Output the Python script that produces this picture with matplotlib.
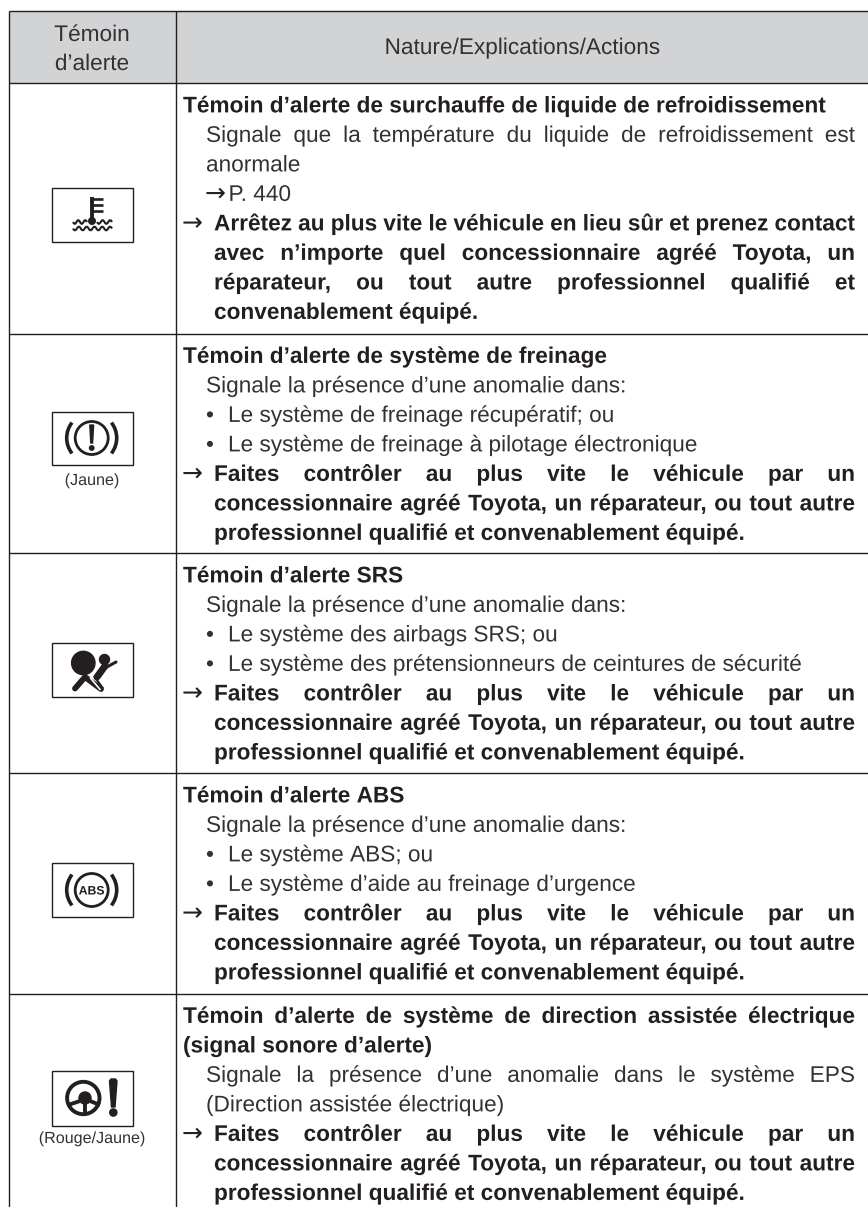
# -*- coding: utf-8 -*-
import matplotlib
matplotlib.use('Agg')
from matplotlib import pyplot as plt
from matplotlib import patheffects
from matplotlib.font_manager import FontProperties
from matplotlib.patches import Arc, Circle, Polygon, Rectangle, PathPatch
from matplotlib.path import Path
from matplotlib.textpath import text_to_path

plt.rcParams['font.family'] = ['Liberation Sans', 'DejaVu Sans']
# trace le texte en contours pour garder les positions au sous-pixel
plt.rcParams['path.effects'] = [patheffects.Normal()]

ENCRE = '#231f20'
GRIS_TEXTE = '#333132'
GRIS_ENTETE = '#d1d3d4'

entete_gauche = ['Témoin', 'd’alerte']
entete_droite = 'Nature/Explications/Actions'

# (style, texte, justifie) : t=titre, n=normal, p=puce, f=fleche, c=suite de fleche, r=renvoi
lignes_1 = [
    ('t', 'Témoin d’alerte de surchauffe de liquide de refroidissement', False),
    ('n', 'Signale que la température du liquide de refroidissement est', True),
    ('n', 'anormale', False),
    ('r', 'P. 440', False),
    ('f', 'Arrêtez au plus vite le véhicule en lieu sûr et prenez contact', True),
    ('c', 'avec n’importe quel concessionnaire agréé Toyota, un', True),
    ('c', 'réparateur, ou tout autre professionnel qualifié et', True),
    ('c', 'convenablement équipé.', False),
]
lignes_2 = [
    ('t', 'Témoin d’alerte de système de freinage', False),
    ('n', 'Signale la présence d’une anomalie dans:', False),
    ('p', 'Le système de freinage récupératif; ou', False),
    ('p', 'Le système de freinage à pilotage électronique', False),
    ('f', 'Faites contrôler au plus vite le véhicule par un', True),
    ('c', 'concessionnaire agréé Toyota, un réparateur, ou tout autre', True),
    ('c', 'professionnel qualifié et convenablement équipé.', False),
]
lignes_3 = [
    ('t', 'Témoin d’alerte SRS', False),
    ('n', 'Signale la présence d’une anomalie dans:', False),
    ('p', 'Le système des airbags SRS; ou', False),
    ('p', 'Le système des prétensionneurs de ceintures de sécurité', False),
    ('f', 'Faites contrôler au plus vite le véhicule par un', True),
    ('c', 'concessionnaire agréé Toyota, un réparateur, ou tout autre', True),
    ('c', 'professionnel qualifié et convenablement équipé.', False),
]
lignes_4 = [
    ('t', 'Témoin d’alerte ABS', False),
    ('n', 'Signale la présence d’une anomalie dans:', False),
    ('p', 'Le système ABS; ou', False),
    ('p', 'Le système d’aide au freinage d’urgence', False),
    ('f', 'Faites contrôler au plus vite le véhicule par un', True),
    ('c', 'concessionnaire agréé Toyota, un réparateur, ou tout autre', True),
    ('c', 'professionnel qualifié et convenablement équipé.', False),
]
lignes_5 = [
    ('t', 'Témoin d’alerte de système de direction assistée électrique', True),
    ('t', '(signal sonore d’alerte)', False),
    ('n', 'Signale la présence d’une anomalie dans le système EPS', True),
    ('n', '(Direction assistée électrique)', False),
    ('f', 'Faites contrôler au plus vite le véhicule par un', True),
    ('c', 'concessionnaire agréé Toyota, un réparateur, ou tout autre', True),
    ('c', 'professionnel qualifié et convenablement équipé.', False),
]
toutes_lignes = [lignes_1, lignes_2, lignes_3, lignes_4, lignes_5]
haut_rangees = [83, 333.5, 553, 773, 993.5]

fig = plt.figure(figsize=(8.68, 12.07), dpi=100)
ax = fig.add_axes([0, 0, 1, 1])
ax.set_xlim(0, 868)
ax.set_ylim(1207, 0)
ax.axis('off')

TAILLE = 16.3
ESPACE = 29.5
DROITE = 855


def largeur(mot, poids):
    # avance du mot en pixels, les barres gardent les blancs de bord
    prop = FontProperties(family='Liberation Sans', size=TAILLE, weight=poids)
    w1 = text_to_path.get_text_width_height_descent('|' + mot + '|', prop, False)[0]
    w0 = text_to_path.get_text_width_height_descent('||', prop, False)[0]
    return (w1 - w0) * 100 / 72


def ecrire(x, y, texte, poids, justifie):
    mots = texte.split(' ')
    tailles = [largeur(m, poids) for m in mots]
    if justifie and len(mots) > 1:
        blanc = (DROITE - x - sum(tailles)) / (len(mots) - 1)
    else:
        blanc = largeur(' ', poids)
    coul = ENCRE if poids == 'bold' else GRIS_TEXTE
    for m, w in zip(mots, tailles):
        ax.text(x, y, m, fontsize=TAILLE, fontweight=poids, color=coul, va='baseline')
        x += w + blanc


def fleche(x, y):
    ax.text(x, y, '→', fontsize=18, family='DejaVu Sans', color=ENCRE, va='baseline')


# tableau
ax.add_patch(Rectangle((9, 10.5), 859, 72.5, facecolor=GRIS_ENTETE, edgecolor='none'))
for y in [10.5] + haut_rangees:
    ax.plot([9, 868], [y, y], color=ENCRE, lw=1.0, solid_capstyle='butt')
for x in [9, 175.5]:
    ax.plot([x, x], [10.5, 1207], color=ENCRE, lw=1.0, solid_capstyle='butt')

ax.text(92, 41, entete_gauche[0], fontsize=TAILLE, ha='center', va='baseline', color=GRIS_TEXTE)
ax.text(92, 70, entete_gauche[1], fontsize=TAILLE, ha='center', va='baseline', color=GRIS_TEXTE)
ax.text(522.5, 54, entete_droite, fontsize=TAILLE, ha='center', va='baseline', color=GRIS_TEXTE)

# texte des rangees
for haut, lignes in zip(haut_rangees, toutes_lignes):
    y = haut + 29.4
    for style, texte, justifie in lignes:
        if style == 't':
            ecrire(183, y, texte, 'bold', justifie)
        elif style == 'n':
            ecrire(206, y, texte, 'normal', justifie)
        elif style == 'r':
            fleche(205, y)
            ecrire(228.5, y, texte, 'normal', justifie)
        elif style == 'p':
            ax.text(206, y, '•', fontsize=TAILLE, color=GRIS_TEXTE, va='baseline')
            ecrire(228, y, texte, 'normal', justifie)
        elif style == 'f':
            fleche(182, y)
            ecrire(214, y, texte, 'bold', justifie)
        else:
            ecrire(214, y, texte, 'bold', justifie)
        y += ESPACE

# cadres des temoins
for y0, y1 in [(188, 242), (411.5, 465), (643, 697), (863, 917), (1071, 1125.5)]:
    ax.add_patch(Rectangle((51.5, y0), 81, y1 - y0, facecolor='white', edgecolor=ENCRE, lw=1.0))

ax.text(92, 485, '(Jaune)', fontsize=11.6, ha='center', va='baseline', color=GRIS_TEXTE)
ax.text(92, 1143, '(Rouge/Jaune)', fontsize=11.6, ha='center', va='baseline', color=GRIS_TEXTE)


def trait(xs, ys, lw, cap='round'):
    ax.plot(xs, ys, color=ENCRE, lw=lw, solid_capstyle=cap, solid_joinstyle='round')


def vague(x0, x1, y, n, lw=1.5):
    sommets = [(x0, y)]
    codes = [Path.MOVETO]
    pas = (x1 - x0) / n
    for i in range(n):
        signe = 1 if i % 2 == 0 else -1
        sommets += [(x0 + (i + 0.5) * pas, y + signe * 3.6), (x0 + (i + 1) * pas, y)]
        codes += [Path.CURVE3, Path.CURVE3]
    ax.add_patch(PathPatch(Path(sommets, codes), facecolor='none', edgecolor=ENCRE, lw=lw))


# temoin 1 : thermometre
trait([92, 92], [197, 221], 2.8, 'butt')
for y in [198.5, 204.5, 210.5]:
    trait([92, 103], [y, y], 1.9, 'butt')
ax.add_patch(Circle((92, 221), 3.3, color=ENCRE))
vague(73, 87, 222, 4)
vague(97, 112, 222, 4)
vague(73, 112, 228.5, 10)


def cercle_freins(cx, cy):
    ax.add_patch(Circle((cx, cy), 16.5, facecolor='none', edgecolor=ENCRE, lw=2.0))
    ax.add_patch(Arc((cx, cy), 50, 50, theta1=-38, theta2=38, edgecolor=ENCRE, lw=2.6))
    ax.add_patch(Arc((cx, cy), 50, 50, theta1=142, theta2=218, edgecolor=ENCRE, lw=2.6))


# temoin 2 : freinage
cercle_freins(91.7, 438)
ax.add_patch(Polygon([(89.8, 425), (93.6, 425), (92.6, 443), (90.8, 443)], color=ENCRE))
ax.add_patch(Circle((91.7, 448), 2.2, color=ENCRE))

# temoin 3 : airbag
ax.add_patch(Circle((83.3, 663), 11.7, color=ENCRE))
ax.add_patch(Circle((104.5, 659.5), 5, color=ENCRE))
trait([75, 85, 101], [688.5, 677, 689], 4.2)
trait([97, 105], [677, 666], 5.0)
trait([105, 116], [668, 662], 2.2)
ax.plot([90, 100.5], [677.5, 690], color='white', lw=1.2, solid_capstyle='butt')
trait([94, 103], [676, 688.5], 1.6, 'butt')

# temoin 4 : ABS
cercle_freins(91.7, 890)
ax.text(91.7, 890, 'ABS', fontsize=8.8, fontweight='bold', ha='center', va='center_baseline', color=ENCRE)

# temoin 5 : direction
ax.add_patch(Circle((83.3, 1098), 16.2, facecolor='none', edgecolor=ENCRE, lw=2.8))
ax.add_patch(Circle((85, 1098), 6, color=ENCRE))
trait([68, 80], [1105, 1101], 2.8, 'butt')
trait([100, 90], [1105, 1101], 2.8, 'butt')
trait([85, 85], [1102, 1114], 2.8, 'butt')
ax.add_patch(Polygon([(109.5, 1081), (111, 1079), (115.5, 1079), (117, 1081), (115, 1107), (111.5, 1107)], color=ENCRE))
ax.add_patch(Circle((113.3, 1112.5), 3.6, color=ENCRE))

fig.savefig('out.png', dpi=100)
